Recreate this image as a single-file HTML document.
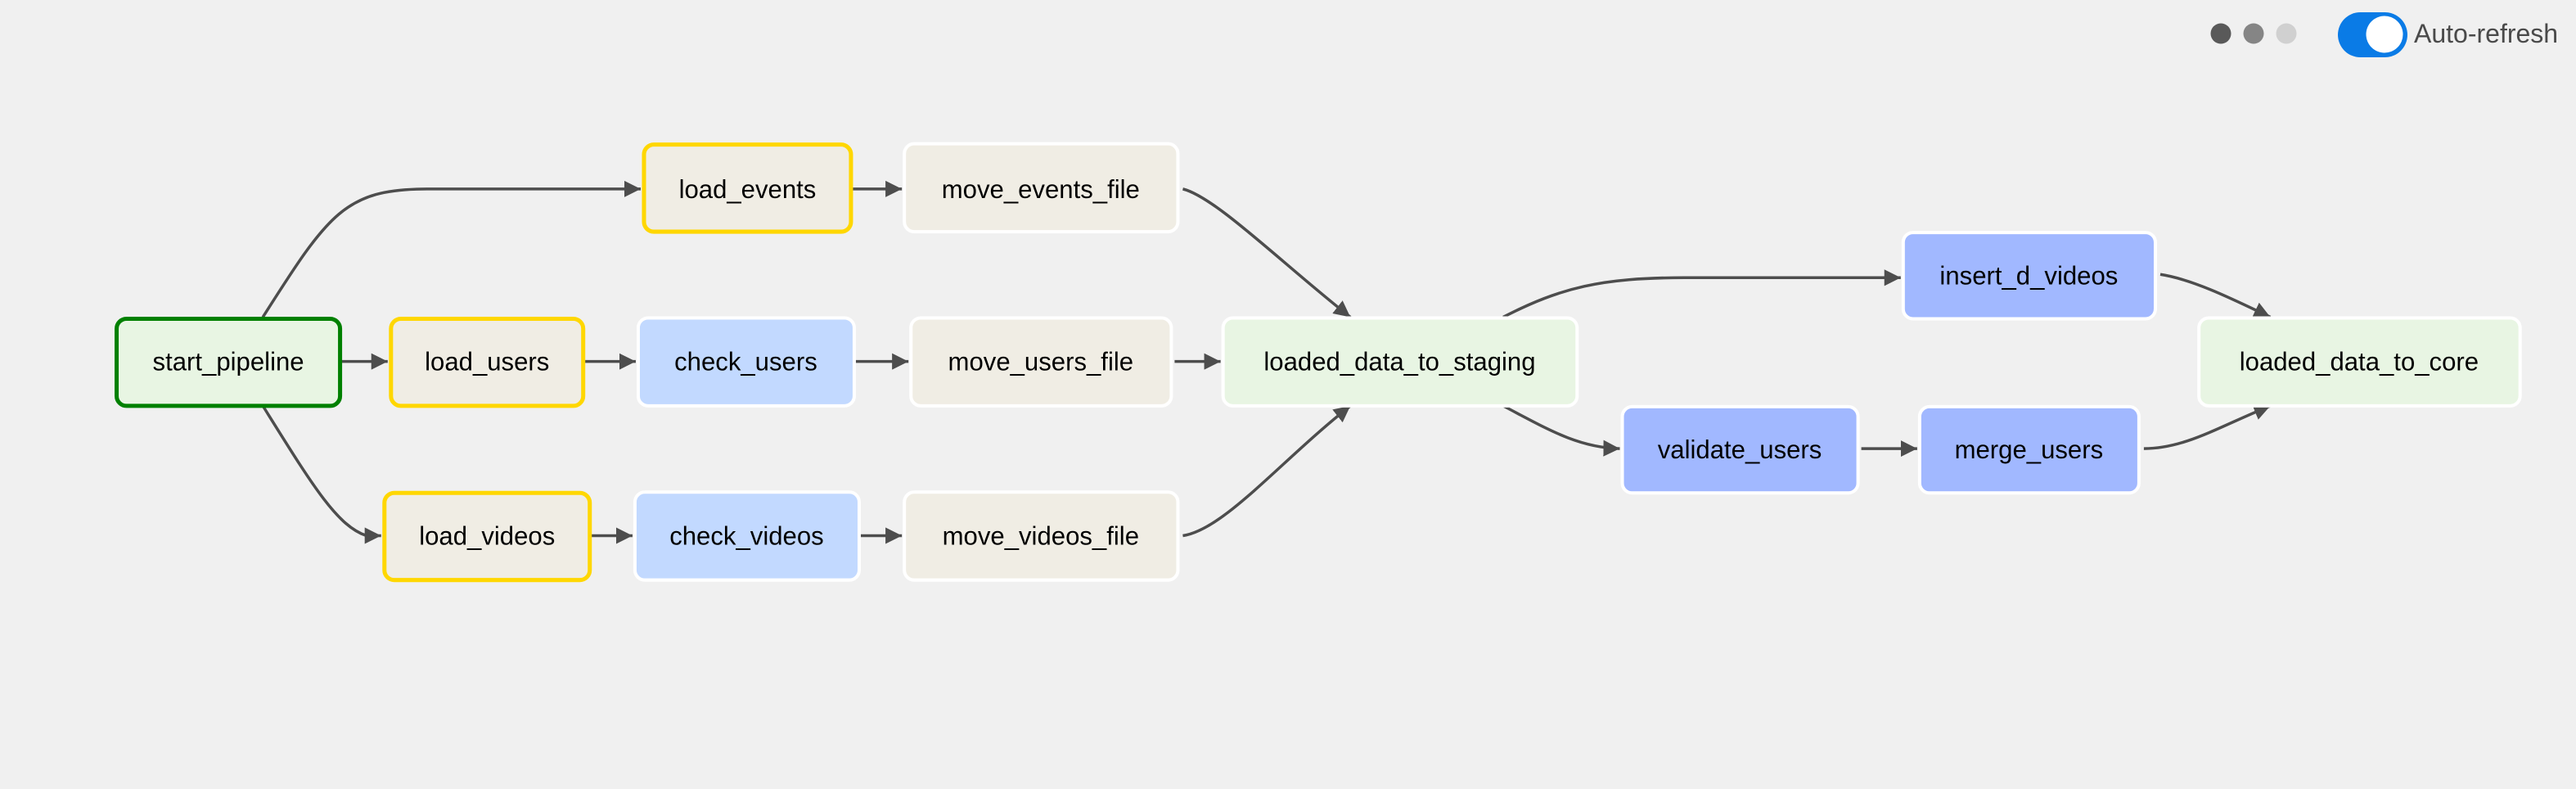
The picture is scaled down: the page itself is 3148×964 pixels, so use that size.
<!DOCTYPE html>
<html><head><meta charset="utf-8"><style>
html,body{margin:0;padding:0;background:#f0f0f0;width:3148px;height:964px;overflow:hidden;font-family:"Liberation Sans",Arial,sans-serif}
</style></head><body>
<svg width="3148" height="964" xmlns="http://www.w3.org/2000/svg" font-family="Liberation Sans, Arial, sans-serif">
<defs><marker id="a" viewBox="0 0 20 20" refX="20" refY="10" markerWidth="20" markerHeight="20" orient="auto" markerUnits="userSpaceOnUse"><path d="M0,0 L20,10 L0,20 z" fill="#4d4d4d"/></marker></defs>
<g transform="scale(1.0038)">
<g fill="none" stroke="#4d4d4d" stroke-width="3.5" marker-end="url(#a)">
<path d="M320,386 C400,260 420,230 520,230 L780,230"/>
<path d="M414,440 L472,440"/>
<path d="M320,494 C380,590 410,640 446,652 L464,652"/>
<path d="M1036,230 L1098,230"/>
<path d="M710,440 L774,440"/>
<path d="M1040,440 L1106,440"/>
<path d="M718,652 L770,652"/>
<path d="M1046,652 L1098,652"/>
<path d="M1440,230 C1480,240 1560,320 1644,386"/>
<path d="M1430,440 L1486,440"/>
<path d="M1440,652 C1490,645 1560,560 1644,494"/>
<path d="M1830,386 C1900,350 1950,338 2050,338 L2314,338"/>
<path d="M1830,494 C1880,520 1920,545 1972,546"/>
<path d="M2630,334 C2670,340 2720,365 2764,386"/>
<path d="M2266,546 L2334,546"/>
<path d="M2610,546 C2660,546 2700,520 2764,494"/>
</g>
<g font-size="31" text-anchor="middle" fill="#000">
<rect x="142" y="388" width="272" height="106" rx="12" fill="#e8f5e3" stroke="#008000" stroke-width="5"/><text x="278" y="451">start_pipeline</text>
<rect x="784" y="176" width="252" height="106" rx="12" fill="#f0ede4" stroke="#ffd700" stroke-width="5"/><text x="910" y="241">load_events</text>
<rect x="1101" y="175" width="333" height="107" rx="12" fill="#f0ede4" stroke="#fff" stroke-width="4"/><text x="1267" y="241">move_events_file</text>
<rect x="476" y="388" width="234" height="106" rx="12" fill="#f0ede4" stroke="#ffd700" stroke-width="5"/><text x="593" y="451">load_users</text>
<rect x="777" y="387" width="263" height="107" rx="12" fill="#c2d9ff" stroke="#fff" stroke-width="4"/><text x="908" y="451">check_users</text>
<rect x="1109" y="387" width="317" height="107" rx="12" fill="#f0ede4" stroke="#fff" stroke-width="4"/><text x="1267" y="451">move_users_file</text>
<rect x="1489" y="387" width="431" height="107" rx="12" fill="#e8f5e3" stroke="#fff" stroke-width="4"/><text x="1704" y="451">loaded_data_to_staging</text>
<rect x="468" y="600" width="250" height="106" rx="12" fill="#f0ede4" stroke="#ffd700" stroke-width="5"/><text x="593" y="663">load_videos</text>
<rect x="773" y="599" width="273" height="107" rx="12" fill="#c2d9ff" stroke="#fff" stroke-width="4"/><text x="909" y="663">check_videos</text>
<rect x="1101" y="599" width="333" height="107" rx="12" fill="#f0ede4" stroke="#fff" stroke-width="4"/><text x="1267" y="663">move_videos_file</text>
<rect x="2317" y="283" width="307" height="105" rx="12" fill="#a1b8ff" stroke="#fff" stroke-width="4"/><text x="2470" y="346">insert_d_videos</text>
<rect x="1975" y="495" width="287" height="105" rx="12" fill="#a1b8ff" stroke="#fff" stroke-width="4"/><text x="2118" y="558">validate_users</text>
<rect x="2337" y="495" width="267" height="105" rx="12" fill="#a1b8ff" stroke="#fff" stroke-width="4"/><text x="2470" y="558">merge_users</text>
<rect x="2677" y="387" width="391" height="107" rx="12" fill="#e8f5e3" stroke="#fff" stroke-width="4"/><text x="2872" y="451">loaded_data_to_core</text>
</g>
</g>
<circle cx="2714" cy="41" r="12.5" fill="#595959"/>
<circle cx="2754" cy="41" r="12.5" fill="#858585"/>
<circle cx="2794" cy="41" r="12.5" fill="#d0d0d0"/>
<rect x="2857" y="15" width="85" height="55" rx="27.5" fill="#0a7be6"/>
<circle cx="2914" cy="42" r="22.5" fill="#fff"/>
<text x="2950" y="52" font-size="32" fill="#4a4a4a">Auto-refresh</text>
</svg>
</body></html>
